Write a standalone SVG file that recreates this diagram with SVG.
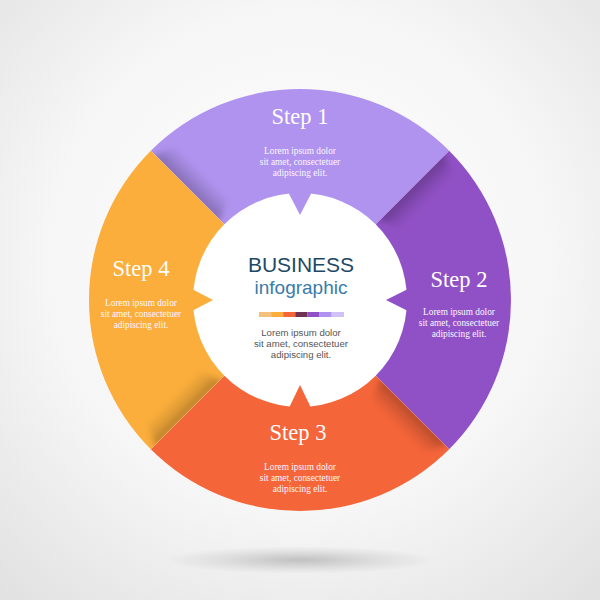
<svg xmlns="http://www.w3.org/2000/svg" xmlns:xlink="http://www.w3.org/1999/xlink" width="600" height="600" viewBox="0 0 600 600">
  <defs>
    <radialGradient id="bg" cx="300" cy="260" r="460" gradientUnits="userSpaceOnUse">
      <stop offset="0" stop-color="#ffffff"/>
      <stop offset="0.55" stop-color="#f6f6f6"/>
      <stop offset="1" stop-color="#e0e0e0"/>
    </radialGradient>
    <radialGradient id="floorShadow" cx="0.5" cy="0.5" r="0.5">
      <stop offset="0" stop-color="#000" stop-opacity="0.2"/>
      <stop offset="0.6" stop-color="#000" stop-opacity="0.07"/>
      <stop offset="1" stop-color="#000" stop-opacity="0"/>
    </radialGradient>
    <linearGradient id="curlGrad" x1="0" y1="0" x2="0" y2="22" gradientUnits="userSpaceOnUse">
      <stop offset="0" stop-color="#000" stop-opacity="0.26"/>
      <stop offset="0.4" stop-color="#000" stop-opacity="0.12"/>
      <stop offset="1" stop-color="#000" stop-opacity="0"/>
    </linearGradient>
    <filter id="blur3" x="-20%" y="-50%" width="140%" height="200%">
      <feGaussianBlur stdDeviation="3"/>
    </filter>
    <clipPath id="wedgeClip" clipPathUnits="userSpaceOnUse">
      <path d="M0,0 L211,0 A211,211 0 0 1 0,211 Z"/>
    </clipPath>
    <g id="curl" clip-path="url(#wedgeClip)">
      <polygon points="112,-3 206,-3 196,22 122,22" fill="url(#curlGrad)" filter="url(#blur3)"/>
    </g>
    <style>
      .step { font-family: "Liberation Serif", "Times New Roman", serif; font-size: 22.5px; fill: #ffffff; text-anchor: middle; }
      .lorem { font-family: "Liberation Serif", "Times New Roman", serif; font-size: 9.3px; fill: #fbf6ff; text-anchor: middle; }
      .clorem { font-family: "Liberation Sans", Arial, sans-serif; font-size: 9.6px; fill: #555555; text-anchor: middle; }
    </style>
  </defs>

  <rect width="600" height="600" fill="url(#bg)"/>
  <ellipse cx="300" cy="560" rx="135" ry="14" fill="url(#floorShadow)"/>

  <g id="step1">
    <path d="M300,300 L150.8,150.8 A211,211 0 0 1 449.2,150.8 Z" fill="#B093EF"/>
    <use xlink:href="#curl" transform="translate(300,300) rotate(-135)"/>
    <text class="step" x="300" y="124">Step 1</text>
    <text class="lorem" x="300" y="154">Lorem ipsum dolor</text>
    <text class="lorem" x="300" y="165">sit amet, consectetuer</text>
    <text class="lorem" x="300" y="176">adipiscing elit.</text>
  </g>

  <g id="step2">
    <path d="M300,300 L449.2,150.8 A211,211 0 0 1 449.2,449.2 Z" fill="#9151C6"/>
    <use xlink:href="#curl" transform="translate(300,300) rotate(-45)"/>
    <text class="step" x="459" y="287">Step 2</text>
    <text class="lorem" x="459" y="315">Lorem ipsum dolor</text>
    <text class="lorem" x="459" y="326">sit amet, consectetuer</text>
    <text class="lorem" x="459" y="337">adipiscing elit.</text>
  </g>

  <g id="step3">
    <path d="M300,300 L449.2,449.2 A211,211 0 0 1 150.8,449.2 Z" fill="#F5653A"/>
    <use xlink:href="#curl" transform="translate(300,300) rotate(45)"/>
    <text class="step" x="298" y="440">Step 3</text>
    <text class="lorem" x="300" y="470">Lorem ipsum dolor</text>
    <text class="lorem" x="300" y="481">sit amet, consectetuer</text>
    <text class="lorem" x="300" y="492">adipiscing elit.</text>
  </g>

  <g id="step4">
    <path d="M300,300 L150.8,449.2 A211,211 0 0 1 150.8,150.8 Z" fill="#FBAE3B"/>
    <use xlink:href="#curl" transform="translate(300,300) rotate(135)"/>
    <text class="step" x="141" y="276">Step 4</text>
    <text class="lorem" x="141" y="306">Lorem ipsum dolor</text>
    <text class="lorem" x="141" y="317">sit amet, consectetuer</text>
    <text class="lorem" x="141" y="328">adipiscing elit.</text>
  </g>

  <g id="center">
    <circle cx="300" cy="300" r="107" fill="#ffffff"/>
    <polygon points="286,188 300,215 314,188" fill="#B093EF"/>
    <polygon points="412,287 386,300 412,313" fill="#9151C6"/>
    <polygon points="287,412 300,385 313,412" fill="#F5653A"/>
    <polygon points="188,287 213,300 188,313" fill="#FBAE3B"/>
    <text x="301" y="272" font-family="Liberation Sans, Arial, sans-serif" font-size="21" fill="#1D4866" text-anchor="middle">BUSINESS</text>
    <text x="301" y="294" font-family="Liberation Sans, Arial, sans-serif" font-size="19" fill="#3A7BA8" text-anchor="middle">infographic</text>
    <rect x="259" y="312" width="12.2" height="5" fill="#F5C07E"/>
    <rect x="271.1" y="312" width="12.2" height="5" fill="#FBAE3B"/>
    <rect x="283.2" y="312" width="12.2" height="5" fill="#F5653A"/>
    <rect x="295.3" y="312" width="12.2" height="5" fill="#6E3352"/>
    <rect x="307.4" y="312" width="12.2" height="5" fill="#9151C6"/>
    <rect x="319.5" y="312" width="12.2" height="5" fill="#B093EF"/>
    <rect x="331.6" y="312" width="12.4" height="5" fill="#D0C2F6"/>
    <text class="clorem" x="301" y="336">Lorem ipsum dolor</text>
    <text class="clorem" x="301" y="347">sit amet, consectetuer</text>
    <text class="clorem" x="301" y="358">adipiscing elit.</text>
  </g>
  <g id="connectors"/>
</svg>
